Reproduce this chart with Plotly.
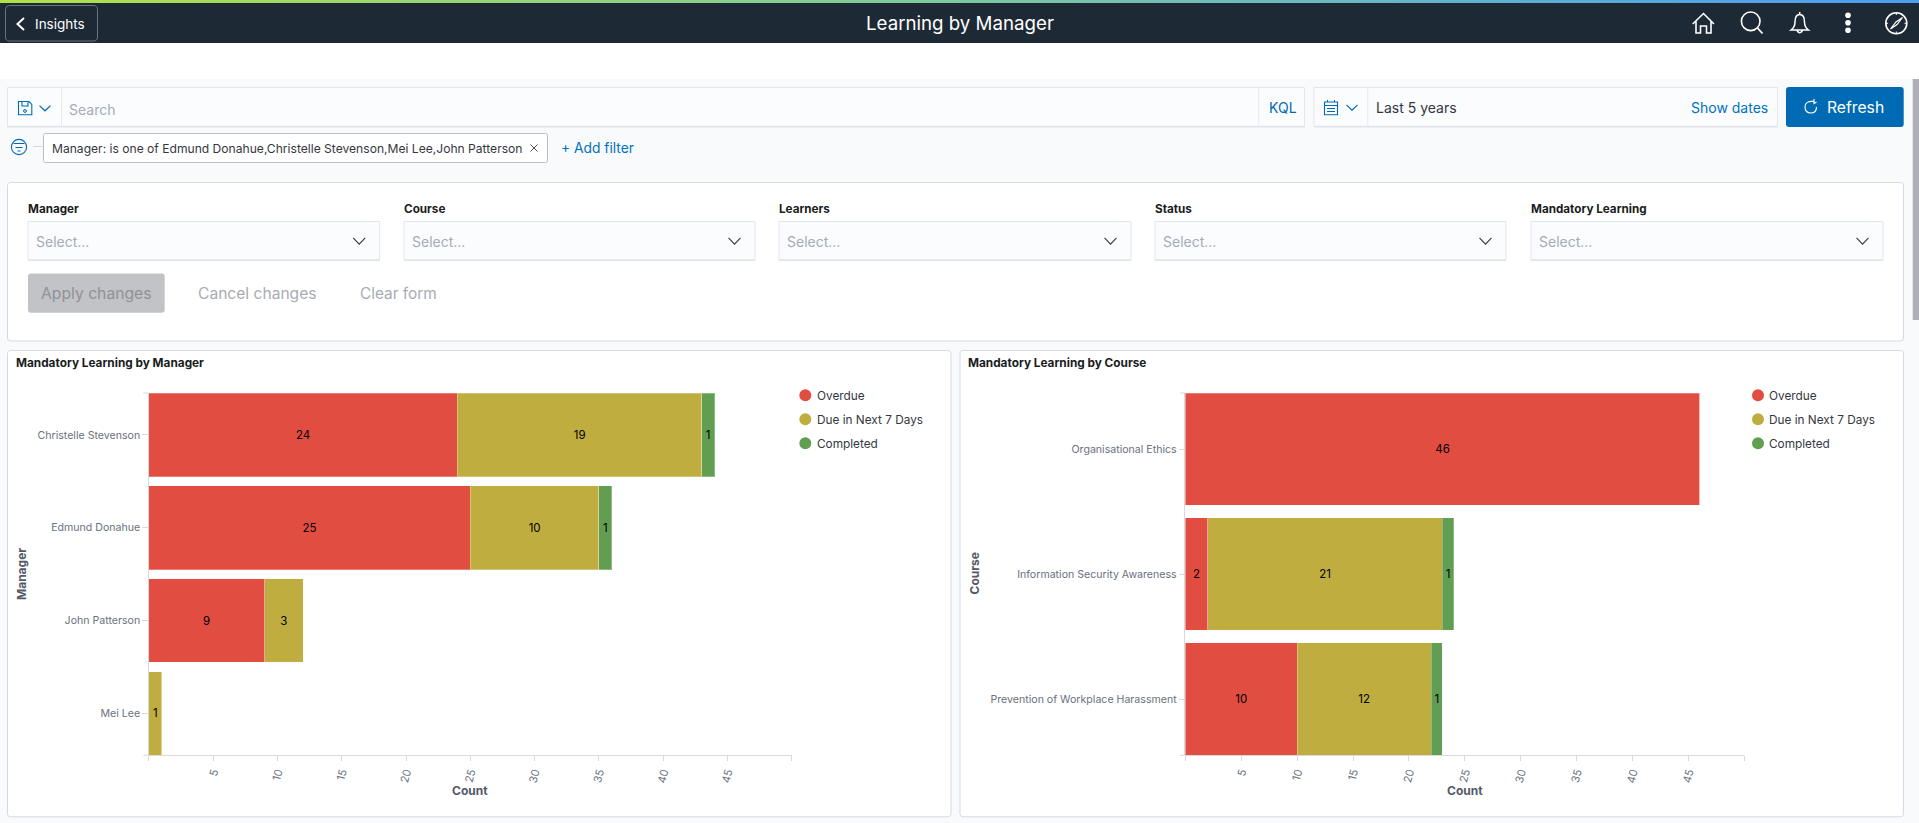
import re
import plotly.graph_objects as go

# ---------- data ----------
manager_categories = ["Christelle Stevenson", "Edmund Donahue", "John Patterson", "Mei Lee"]
manager_overdue = [24, 25, 9, 0]
manager_due = [19, 10, 3, 1]
manager_completed = [1, 1, 0, 0]

course_categories = ["Organisational Ethics", "Information Security Awareness", "Prevention of Workplace Harassment"]
course_overdue = [46, 2, 10]
course_due = [0, 21, 12]
course_completed = [0, 1, 1]

series_names = ["Overdue", "Due in Next 7 Days", "Completed"]
series_colors = ["#e24d42", "#bfad3f", "#629e51"]
count_ticks = [0, 5, 10, 15, 20, 25, 30, 35, 40, 45, 50]
count_labels = ["", "5", "10", "15", "20", "25", "30", "35", "40", "45", ""]

filter_labels = ["Manager", "Course", "Learners", "Status", "Mandatory Learning"]

# ---------- helpers (pixel -> paper) ----------
W, H = 1919, 823
FONT = "Inter"
shapes, notes = [], []


def fx(x):
    return x / W


def fy(y):
    return 1 - y / H


def conv(path):
    toks = re.findall(r"[A-Za-z]|-?\d+\.?\d*", path)
    out, is_x = [], True
    for t in toks:
        if t.isalpha():
            out.append(t)
            is_x = True
        else:
            v = float(t)
            out.append(f"{fx(v):.6f}" if is_x else f"{fy(v):.6f}")
            is_x = not is_x
    return " ".join(out)


def path(d, line=None, fill=None, lw=1.0):
    shapes.append(dict(type="path", xref="paper", yref="paper", path=conv(d), layer="below",
                       fillcolor=fill or "rgba(0,0,0,0)",
                       line=dict(color=line or "rgba(0,0,0,0)", width=lw if line else 0)))


def rect(x0, y0, x1, y1, fill=None, line=None, lw=1.0, r=0):
    if r:
        d = (f"M {x0+r} {y0} L {x1-r} {y0} Q {x1} {y0} {x1} {y0+r} L {x1} {y1-r} Q {x1} {y1} {x1-r} {y1} "
             f"L {x0+r} {y1} Q {x0} {y1} {x0} {y1-r} L {x0} {y0+r} Q {x0} {y0} {x0+r} {y0} Z")
        path(d, line=line, fill=fill, lw=lw)
    else:
        shapes.append(dict(type="rect", xref="paper", yref="paper", x0=fx(x0), x1=fx(x1), y0=fy(y0), y1=fy(y1),
                           layer="below", fillcolor=fill or "rgba(0,0,0,0)",
                           line=dict(color=line or "rgba(0,0,0,0)", width=lw if line else 0)))


def circle(cx, cy, r, fill=None, line=None, lw=1.0, layer="below"):
    shapes.append(dict(type="circle", xref="paper", yref="paper", x0=fx(cx - r), x1=fx(cx + r), y0=fy(cy + r),
                       y1=fy(cy - r), layer=layer, fillcolor=fill or "rgba(0,0,0,0)",
                       line=dict(color=line or "rgba(0,0,0,0)", width=lw if line else 0)))


def text(x, y, s, size=12, color="#343741", anchor="left", bold=False, angle=0, family=None):
    notes.append(dict(xref="paper", yref="paper", x=fx(x), y=fy(y), text=f"<b>{s}</b>" if bold else s,
                      showarrow=False, xanchor=anchor, yanchor="middle", textangle=angle, borderpad=0, borderwidth=0,
                      font=dict(family=family or FONT, size=size, color=color)))


def chevron_down(cx, cy, hw, hh, color, lw=1.2):
    path(f"M {cx-hw} {cy-hh} L {cx} {cy+hh} L {cx+hw} {cy-hh}", line=color, lw=lw)


# ---------- page chrome ----------
BLUE = "#006bb4"
BORDER = "#d3dae6"
rect(0, 79, W, H, fill="#f9fafc")

# gradient strip and header
grad_left, grad_mid, grad_right = (176, 224, 74), (125, 200, 160), (77, 157, 245)
n = 48
for i in range(n):
    t = i / (n - 1)
    if t < 0.5:
        a, b, u = grad_left, grad_mid, t * 2
    else:
        a, b, u = grad_mid, grad_right, (t - 0.5) * 2
    c = tuple(round(a[k] + (b[k] - a[k]) * u) for k in range(3))
    rect(i * W / n, 0, (i + 1) * W / n + 1, 3, fill=f"rgb{c}")
rect(0, 3, W, 43, fill="#1e2936")

rect(5.5, 5.5, 97.5, 41, line="#6b7480", lw=1, r=4)
path("M 24 18 L 17.5 24 L 24 30", line="#ffffff", lw=2)
text(34.5, 24.5, "Insights", size=13.5, color="#ffffff")
text(959.5, 23, "Learning by Manager", size=18.7, color="#ffffff", anchor="center")

# home
path("M 1692.7 24 L 1703.5 13.5 L 1714 24 M 1696 21.5 L 1696 33 L 1700.5 33 L 1700.5 26 L 1706.5 26 L 1706.5 33 "
     "L 1711 33 L 1711 21.5", line="#ffffff", lw=1.6)
# search
circle(1750.7, 21.3, 9.3, line="#ffffff", lw=1.6)
path("M 1757.5 28 L 1762.5 33.5", line="#ffffff", lw=1.8)
# bell
path("M 1791 30 Q 1795 27 1795 22 Q 1795 14.5 1799.7 14.5 Q 1804.5 14.5 1804.5 22 Q 1804.5 27 1808.5 30 Z "
     "M 1799.7 12 L 1799.7 14.5 M 1797 30.5 Q 1799.7 35 1802.5 30.5", line="#ffffff", lw=1.5)
# kebab
for yy in (15.3, 22.7, 30.3):
    circle(1848, yy, 2.8, fill="#ffffff")
# compass
circle(1896.3, 23.3, 10.5, line="#ffffff", lw=1.6)
path("M 1890.5 29 L 1896 22 L 1902.5 17.5 L 1897 24.5 Z", line="#ffffff", lw=1.2)
path("M 1896.3 13 L 1896.3 15 M 1896.3 31.5 L 1896.3 33.5 M 1886 23.3 L 1888 23.3 M 1904.5 23.3 L 1906.5 23.3",
     line="#ffffff", lw=1)

# search bar
rect(7.5, 87.5, 1304.5, 126.5, fill="#fbfcfd", line="#e2e6ee", lw=1)
rect(7.5, 125.8, 1304.5, 127.4, fill="#dfe3ea")
path("M 61.5 88 L 61.5 126 M 1258.8 88 L 1258.8 126", line="#e6e9f0", lw=1)
path("M 18.5 101.5 L 29 101.5 L 31.8 104.5 L 31.8 114.8 L 18.5 114.8 Z M 22 101.5 L 22 106 L 28 106 L 28 101.5",
     line=BLUE, lw=1.1)
circle(25, 111, 1.4, line=BLUE, lw=1)
chevron_down(45, 108.2, 5.5, 2.6, BLUE)
text(69, 109.5, "Search", size=14, color="#a5acb8")
text(1268.8, 107, "KQL", size=14, color="#006bb4")

# date picker
rect(1314, 87.5, 1777.5, 126.5, fill="#fbfcfd", line="#e2e6ee", lw=1)
rect(1314, 125.8, 1777.5, 127.4, fill="#dfe3ea")
path("M 1367.8 88 L 1367.8 126", line="#e6e9f0", lw=1)
rect(1324.5, 102, 1337.5, 114.8, line=BLUE, lw=1.1)
path("M 1324.5 105.5 L 1337.5 105.5 M 1327.5 100 L 1327.5 102 M 1334.5 100 L 1334.5 102 "
     "M 1327 108.5 L 1335 108.5 M 1327 111.5 L 1335 111.5", line=BLUE, lw=1)
chevron_down(1352, 107.5, 5.5, 2.6, BLUE)
text(1376, 107.5, "Last 5 years", size=14, color="#343741")
text(1691, 107, "Show dates", size=14, color="#0071c2")

# refresh
rect(1786, 87, 1903.7, 127, fill=BLUE, r=3)
path("M 1814 101.5 Q 1805 100.5 1805 107 Q 1805 113 1811 113 Q 1816.5 113 1816.5 107 M 1814 99 L 1814 103.5 L 1816.5 102",
     line="#ffffff", lw=1.1)
text(1827, 107, "Refresh", size=15.7, color="#ffffff")

# filter row
circle(19, 147, 7.6, line=BLUE, lw=1.1)
path("M 13.5 143.5 L 24.5 143.5 M 15.5 147.5 L 22.5 147.5 M 17.5 151 L 20.5 151", line=BLUE, lw=1.1)
path("M 33 146.5 L 43.5 146.5", line="#d3dae6", lw=1)
rect(43.5, 133.5, 547.5, 162.5, fill="#ffffff", line="#b9c0cc", lw=1, r=2)
text(51.5, 148.5, "Manager: is one of Edmund Donahue,Christelle Stevenson,Mei Lee,John Patterson", size=12.1, color="#343741")
path("M 530.5 144.5 L 537.5 151.5 M 537.5 144.5 L 530.5 151.5", line="#343741", lw=0.9)
text(561, 148, "+ Add filter", size=13.8, color="#0071c2")

# controls panel
rect(7.5, 182.5, 1903.5, 341, fill="#ffffff", line=BORDER, lw=1, r=3)
box_x = [(28, 379.7), (404, 755), (779, 1131), (1155, 1506), (1531, 1883)]
for (x0, x1), label in zip(box_x, filter_labels):
    text(x0, 209, label, size=11.7, color="#1a1c21", bold=True)
    rect(x0, 221.5, x1, 260, fill="#fbfcfd", line="#e2e6ee", lw=1)
    rect(x0, 259.6, x1, 261, fill="#dfe3ea")
    text(x0 + 8, 241, "Select...", size=14, color="#a5acb8")
    chevron_down(x1 - 20.5, 241, 6, 3.2, "#343741", lw=1.1)
rect(28, 273.5, 164.7, 312.7, fill="#c2c3c6", r=3)
text(96.3, 293, "Apply changes", size=15.7, color="#8f9296", anchor="center")
text(197.8, 293, "Cancel changes", size=15.6, color="#a8acb3")
text(359.5, 293, "Clear form", size=15.4, color="#a8acb3")

# scrollbar
rect(1912.7, 79, W, 320, fill="#adaeb7")

# ---------- chart panels ----------
left_box = dict(x0=148.8, x1=791.8, y0=393, y1=755.3)
right_box = dict(x0=1185.3, x1=1744.4, y0=393, y1=755.3)
rect(7.5, 350.5, 951, 816.8, fill="#ffffff", line=BORDER, lw=1, r=3)
rect(960, 350.5, 1903.5, 816.8, fill="#ffffff", line=BORDER, lw=1, r=3)
text(16, 363.3, "Mandatory Learning by Manager", size=11.8, color="#1a1c21", bold=True)
text(968, 363.3, "Mandatory Learning by Course", size=11.8, color="#1a1c21", bold=True)
text(470.3, 790, "Count", size=12, color="#535966", anchor="center", bold=True)
text(1464.6, 790, "Count", size=12, color="#535966", anchor="center", bold=True)
text(21, 574, "Manager", size=12, color="#535966", anchor="center", bold=True, angle=-90)
text(973.5, 574, "Course", size=12, color="#535966", anchor="center", bold=True, angle=-90)

for cx, tx in ((805.3, 816.5), (1758, 1769)):
    for yy, nm, col in zip((395.3, 419.3, 443.3), series_names, series_colors):
        circle(cx, yy, 6, fill=col)
        text(tx, yy + 0.5, nm, size=11.8, color="#343741")

# end ticks of the category axes
for box in (left_box, right_box):
    path(f"M {box['x0']-5.5} {box['y0']} L {box['x0']} {box['y0']}", line="#d9d9d9", lw=1)
    path(f"M {box['x0']-5.5} {box['y1']} L {box['x0']} {box['y1']}", line="#d9d9d9", lw=1)

# ---------- figure ----------
fig = go.Figure()


def add_stack(cats, values, xa, ya):
    for nm, col, vals in zip(series_names, series_colors, values):
        fig.add_trace(go.Bar(
            y=cats, x=vals, name=nm, orientation="h", xaxis=xa, yaxis=ya,
            marker=dict(color=col, line=dict(color="rgba(255,255,255,0.28)", width=1)),
            text=[str(v) if v > 0 else "" for v in vals],
            textposition="inside", insidetextanchor="middle", textangle=0, constraintext="none", cliponaxis=False,
            textfont=dict(family=FONT, size=11.5, color="#000000"),
            showlegend=False, hoverinfo="x+y+name",
        ))


add_stack(manager_categories, [manager_overdue, manager_due, manager_completed], "x", "y")
add_stack(course_categories, [course_overdue, course_due, course_completed], "x2", "y2")


def xaxis(box, anchor):
    return dict(domain=[fx(box["x0"]), fx(box["x1"])], anchor=anchor, range=[0, 50], tickmode="array",
                tickvals=count_ticks, ticktext=count_labels, tickangle=-75, ticks="outside", ticklen=5, tickwidth=1,
                tickcolor="#d9d9d9", showline=True, linecolor="#d9d9d9", linewidth=1, showgrid=False, zeroline=False,
                tickfont=dict(family=FONT, size=11, color="#6a717d"))


def yaxis(box, anchor, cats):
    n_c = len(cats)
    return dict(domain=[fy(box["y1"]), fy(box["y0"])], anchor=anchor, type="category", categoryorder="array",
                categoryarray=cats, range=[n_c - 1 + 0.45, -0.45], ticks="outside", ticklen=5.5, tickwidth=1,
                tickcolor="#d9d9d9", showline=True, linecolor="#d9d9d9", linewidth=1, showgrid=False, zeroline=False,
                tickfont=dict(family=FONT, size=10.6, color="#6a717d"))


fig.update_layout(
    width=W, height=H, margin=dict(l=0, r=0, t=0, b=0), barmode="stack", bargap=0.1,
    paper_bgcolor="#ffffff", plot_bgcolor="rgba(0,0,0,0)", showlegend=False, font=dict(family=FONT),
    xaxis=xaxis(left_box, "y"), yaxis=yaxis(left_box, "x", manager_categories),
    xaxis2=xaxis(right_box, "y2"), yaxis2=yaxis(right_box, "x2", course_categories),
    shapes=shapes, annotations=notes,
)

fig.write_html("out.html", config={"displayModeBar": False},
               post_script="document.body.style.margin='0';document.body.style.overflow='hidden';")
